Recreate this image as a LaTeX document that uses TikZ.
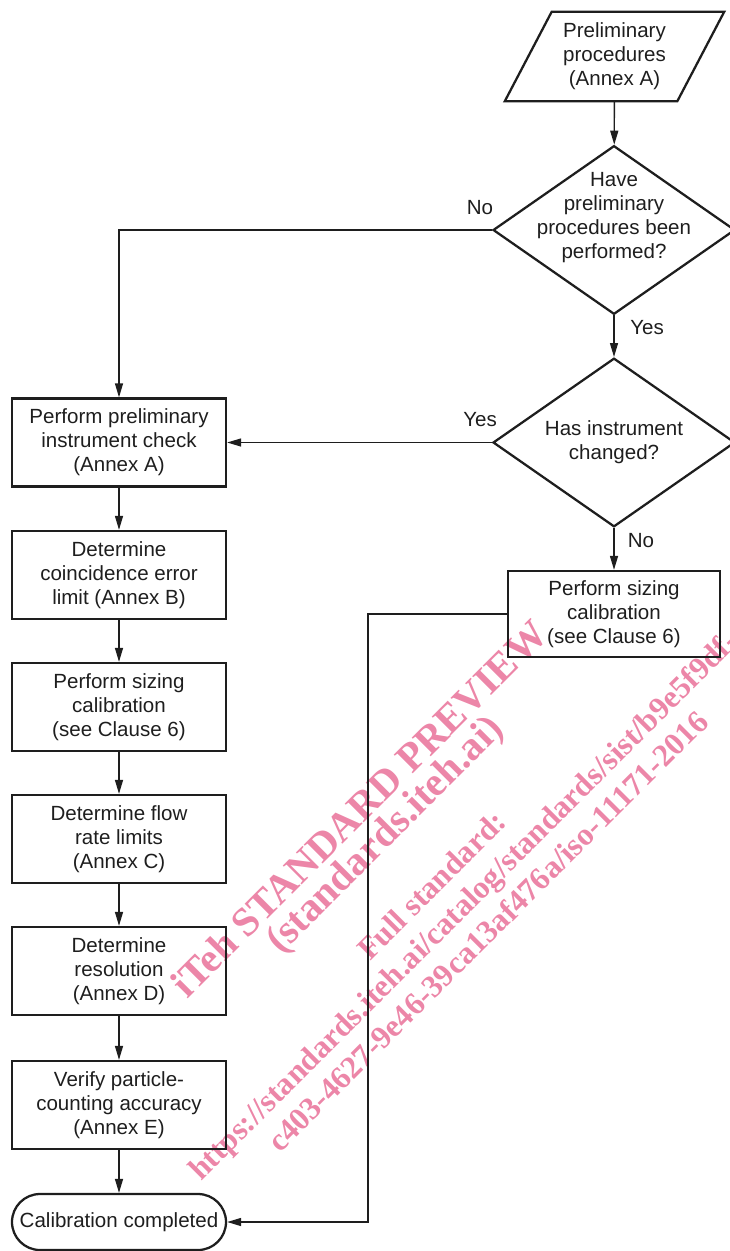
\documentclass[tikz,border=0pt]{standalone}
\usepackage{fontspec}
\setmainfont{Liberation Sans}
\newfontfamily\wmfont{Liberation Serif}
\usepackage{tikz}
\usetikzlibrary{positioning}
\usetikzlibrary{shapes.geometric}
\usetikzlibrary{arrows.meta}
\definecolor{ink}{RGB}{30,30,30}
\definecolor{wmpink}{RGB}{236,134,168}

\begin{document}
\begin{tikzpicture}[x=0.75pt, y=-0.75pt,
    every node/.style={font=\fontsize{15.4}{18}\selectfont, text=ink, align=center},
    proc/.style={draw=ink, line width=1.7pt, rectangle, minimum width=160.5pt, minimum height=66pt, inner sep=0pt},
    decision/.style={draw=ink, line width=1.7pt, diamond, minimum width=181.5pt, minimum height=126.5pt, inner sep=0pt},
    term/.style={draw=ink, line width=1.7pt, rectangle, rounded corners=21pt, minimum width=160.5pt, minimum height=42pt, inner sep=0pt},
    conn/.style={draw=ink, line width=1pt},
    wm/.style={font=\wmfont\bfseries\fontsize{30.5}{32}\selectfont, text=wmpink, rotate=45, anchor=base west, inner sep=0pt},
    wmsmall/.style={wm, font=\wmfont\bfseries\fontsize{23.8}{26}\selectfont},
    >={Triangle[length=10.5pt, width=6pt]}]
          \useasboundingbox (0,0) rectangle (730,1251);

          % Marca de agua
          \node[wm] (wm1) at (187,1000) {iTeh STANDARD PREVIEW};
          \node[wm] (wm2) at (281,955) {(standards.iteh.ai)};
          \node[wmsmall] (wm3) at (370,962) {Full standard:};
          \node[wmsmall] (wm4) at (201,1182) {https://standards.iteh.ai/catalog/standards/sist/b9e5f9df-};
          \node[wmsmall] (wm5) at (280,1154) {c403-4627-9e46-39ca13af476a/iso-11171-2016};

          % Nodos
          \node[minimum width=129pt, minimum height=66.75pt, inner sep=0pt] (pre) at (614.5,56.5) {Preliminary\\procedures\\(Annex A)};
          \draw[ink, line width=1.7pt] ([xshift=17.6pt]pre.north west) -- ([xshift=17.6pt]pre.north east)
              -- ([xshift=-17.6pt]pre.south east) -- ([xshift=-17.6pt]pre.south west) -- cycle;
          \node[decision] (d1) at (614,230) {};
          \node (q1) at (614,218) {Have\\preliminary\\procedures been\\performed?};
          \node[decision] (d2) at (614,442.5) {};
          \node (q2) at (614,442.5) {Has instrument\\changed?};
          \node[proc, minimum width=159pt, minimum height=64.5pt] (rb) at (614,614) {Perform sizing\\calibration\\(see Clause 6)};

          \node[proc] (b1) at (119,442.5) {Perform preliminary\\instrument check\\(Annex A)};
          \node[proc] (b2) at (119,575) {Determine\\coincidence error\\limit (Annex B)};
          \node[proc] (b3) at (119,707) {Perform sizing\\calibration\\(see Clause 6)};
          \node[proc] (b4) at (119,839) {Determine flow\\rate limits\\(Annex C)};
          \node[proc] (b5) at (119,971) {Determine\\resolution\\(Annex D)};
          \node[proc] (b6) at (119,1105) {Verify particle-\\counting accuracy\\(Annex E)};
          \node[term] (t) at (119,1222) {Calibration completed};

          \node (no1) at (480,208) {No};
          \node (yes1) at (647,328) {Yes};
          \node (yes2) at (480,420) {Yes};
          \node (no2) at (641,541) {No};
          \coordinate (bend) at (368,614);

          % Aristas
          \draw[->, conn] (pre) -- (d1);
          \draw[->, conn] (d1.west) -| (b1.north);
          \draw[->, conn] (d1) -- (d2);
          \draw[->, conn] (d2.west) -- (b1.east);
          \draw[->, conn] (d2) -- (rb);
          \draw[->, conn] (rb.west) -- (bend) |- (t.east);
          \draw[->, conn] (b1) -- (b2);
          \draw[->, conn] (b2) -- (b3);
          \draw[->, conn] (b3) -- (b4);
          \draw[->, conn] (b4) -- (b5);
          \draw[->, conn] (b5) -- (b6);
          \draw[->, conn] (b6) -- (t);
        \end{tikzpicture}
\end{document}
